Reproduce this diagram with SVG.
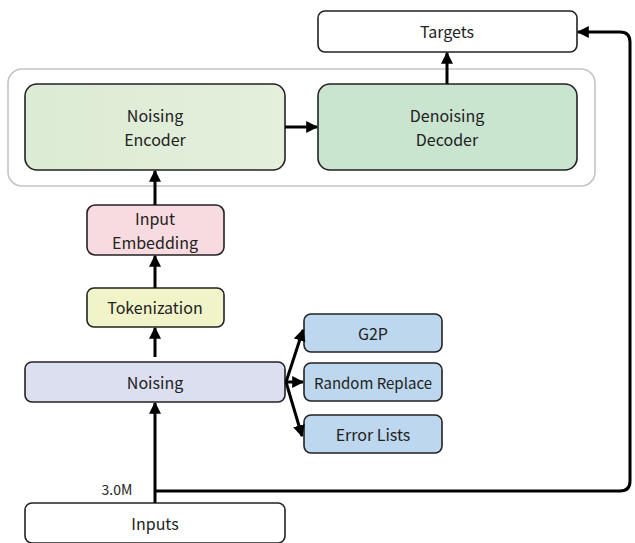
<svg xmlns="http://www.w3.org/2000/svg" width="635" height="543" viewBox="0 0 635 543">
<defs>
<style>
.n{stroke:#222;stroke-width:1.6}
.t{font-family:"Noto Sans CJK KR","Noto Sans",sans-serif;font-size:16px;fill:#222;text-anchor:middle;dominant-baseline:central}
.c{fill:none;stroke:#000;stroke-width:3}
</style>
<linearGradient id="gEnc" x1="0" y1="0" x2="1" y2="0"><stop offset="0" stop-color="#dcebd3"/><stop offset="1" stop-color="#e4efdc"/></linearGradient>
<marker id="ah" viewBox="0 0 10 10" refX="9" refY="5" markerWidth="4" markerHeight="4" orient="auto" markerUnits="strokeWidth"><path d="M0,0 L10,5 L0,10 z" fill="#000"/></marker>
</defs>
<rect width="635" height="543" fill="#fff"/>
<g id="container"><rect x="8" y="69" width="587" height="117" rx="14" fill="#fff" stroke="#c4c4c4" stroke-width="1.6"/></g>
<g id="targets"><rect class="n" x="318" y="11" width="259" height="41" rx="7" fill="#fff"/><text class="t" x="447" y="31">Targets</text></g>
<g id="encoder"><rect class="n" x="25" y="84" width="260" height="86" rx="12" fill="url(#gEnc)"/><text class="t" x="155" y="115">Noising</text><text class="t" x="155" y="139">Encoder</text></g>
<g id="decoder"><rect class="n" x="318" y="84" width="259" height="86" rx="12" fill="#c9e4cf"/><text class="t" x="447" y="115">Denoising</text><text class="t" x="447" y="139">Decoder</text></g>
<g id="embedding"><rect class="n" x="87" y="205" width="137" height="50" rx="8" fill="#f8dbe0"/><text class="t" x="155" y="218">Input</text><text class="t" x="155" y="242">Embedding</text></g>
<g id="tokenization"><rect class="n" x="87" y="288" width="137" height="39" rx="7" fill="#f1f4c9"/><text class="t" x="155" y="307">Tokenization</text></g>
<g id="noising"><rect class="n" x="25" y="362" width="260" height="40" rx="7" fill="#dcdff0"/><text class="t" x="155" y="382">Noising</text></g>
<g id="g2p"><rect class="n" x="304" y="314" width="138" height="38" rx="7" fill="#bdd7ee"/><text class="t" x="373" y="333">G2P</text></g>
<g id="random"><rect class="n" x="304" y="363" width="138" height="38" rx="7" fill="#bdd7ee"/><text class="t" x="373" y="382" style="font-size:15px">Random Replace</text></g>
<g id="errors"><rect class="n" x="304" y="415" width="138" height="38" rx="7" fill="#bdd7ee"/><text class="t" x="373" y="434">Error Lists</text></g>
<g id="inputs"><rect class="n" x="25" y="503" width="260" height="40" rx="7" fill="#fff"/><text class="t" x="155" y="523">Inputs</text></g>
<text class="t" x="117" y="489" style="font-size:14px">3.0M</text>
<g id="connectors">
<line class="c" x1="285" y1="127" x2="317" y2="127" marker-end="url(#ah)"/>
<line class="c" x1="447" y1="84" x2="447" y2="53" marker-end="url(#ah)"/>
<line class="c" x1="155" y1="205" x2="155" y2="171" marker-end="url(#ah)"/>
<line class="c" x1="155" y1="288" x2="155" y2="256" marker-end="url(#ah)"/>
<line class="c" x1="155" y1="357" x2="155" y2="328" marker-end="url(#ah)"/>
<line class="c" x1="155" y1="503" x2="155" y2="403" marker-end="url(#ah)"/>
<path class="c" d="M286,382 L303,330" marker-end="url(#ah)"/>
<path class="c" d="M286,382 L303,382" marker-end="url(#ah)"/>
<path class="c" d="M286,382 L302,436" marker-end="url(#ah)"/>
<path class="c" d="M155,491 H620 Q630,491 630,481 V42 Q630,32 620,32 H578" marker-end="url(#ah)"/>
</g>
</svg>
